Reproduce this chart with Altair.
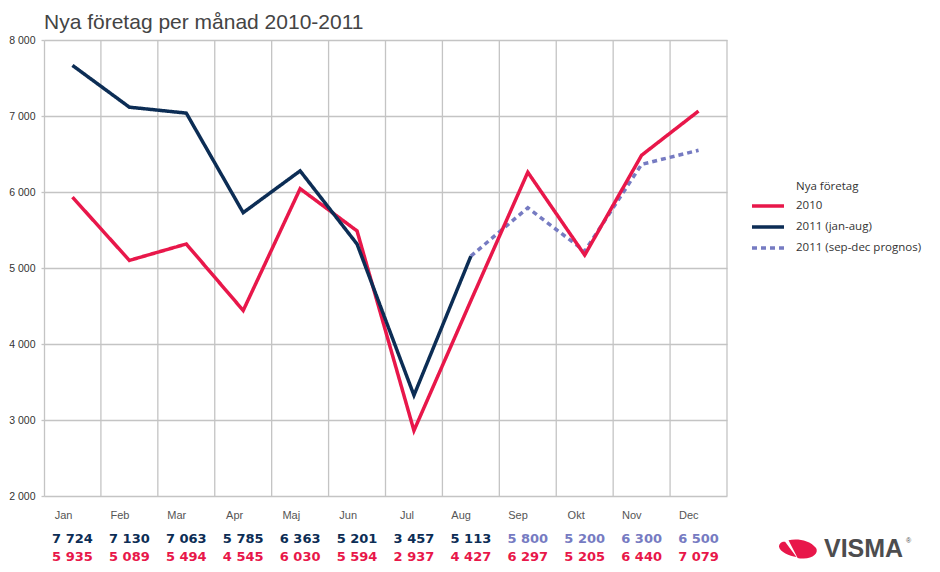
import altair as alt
import pandas as pd

# ---------------- data ----------------
months = ["Jan", "Feb", "Mar", "Apr", "Maj", "Jun", "Jul", "Aug", "Sep", "Okt", "Nov", "Dec"]
series_names = ["2010", "2011 (jan-aug)", "2011 (sep-dec prognos)"]

# plotted line values
line_2010 = [5932, 5100, 5316, 4441, 6043, 5488, 2861, 4570, 6260, 5170, 6484, 7065]
line_2011 = [7666, 7116, 7038, 5728, 6278, 5315, 3325, 5156]          # Jan..Aug
prognos_months = ["Aug", "Sep", "Okt", "Nov", "Dec"]
line_prognos = [5156, 5792, 5221, 6364, 6549]                          # Aug..Dec

# table values printed under the chart
table_2011 = [7724, 7130, 7063, 5785, 6363, 5201, 3457, 5113, 5800, 5200, 6300, 6500]
table_2010 = [5935, 5089, 5494, 4545, 6030, 5594, 2937, 4427, 6297, 5205, 6440, 7079]
n_actual_2011 = 8

y_ticks = [2000, 3000, 4000, 5000, 6000, 7000, 8000]

colors = ["#e8174a", "#0c2d55", "#767bc2"]
grid_color = "#c4c4c4"

# ---------------- tables ----------------
lines_df = pd.concat([
    pd.DataFrame({"month": months, "value": line_2010, "series": series_names[0]}),
    pd.DataFrame({"month": months[:len(line_2011)], "value": line_2011, "series": series_names[1]}),
    pd.DataFrame({"month": prognos_months, "value": line_prognos, "series": series_names[2]}),
], ignore_index=True)

def fmt(v):
    return f"{v:,}".replace(",", " ")

table_df = pd.concat([
    pd.DataFrame({"month": months, "label": [fmt(v) for v in table_2011], "row": "2011",
                  "kind": ["actual"] * n_actual_2011 + ["prognos"] * (12 - n_actual_2011)}),
    pd.DataFrame({"month": months, "label": [fmt(v) for v in table_2010], "row": "2010",
                  "kind": ["actual"] * 12}),
], ignore_index=True)

months_df = pd.DataFrame({"month": months})
one = pd.DataFrame({"k": [0]})

W, H = 683, 456

# ---------------- encodings ----------------
x_scale = alt.Scale(type="band", domain=months, paddingInner=0, paddingOuter=0)
x_enc = alt.X(
    "month:N", sort=months, scale=x_scale,
    axis=alt.Axis(title=None, grid=False, ticks=False, tickSize=0, domain=False, labelAngle=0,
                  labelFont="Liberation Sans", labelFontSize=11, labelColor="#555",
                  labelPadding=19),
)
y_enc = alt.Y(
    "value:Q",
    scale=alt.Scale(domain=[2000, 8000], nice=False, zero=False),
    axis=alt.Axis(title=None, values=y_ticks,
                  labelExpr="replace(format(datum.value, ','), ',', ' ')",
                  labelFont="Liberation Sans", labelFontSize=10.5, labelColor="#333",
                  labelPadding=6, tickSize=3, tickColor=grid_color, tickWidth=1.3,
                  gridColor=grid_color, gridWidth=1.3,
                  domainColor=grid_color, domainWidth=1.3),
)

legend = alt.Legend(
    title=None, orient="none", legendX=718, legendY=160,
    symbolType="M-4,0H4", symbolSize=64, symbolStrokeWidth=3.5,
    labelFont="Open Sans", labelFontSize=11.5, labelColor="#333",
    labelOffset=22, rowPadding=7,
)
color_enc = alt.Color("series:N", scale=alt.Scale(domain=series_names, range=colors),
                      legend=legend)
dash_enc = alt.StrokeDash("series:N",
                          scale=alt.Scale(domain=series_names, range=[[1, 0], [1, 0], [5, 4]]),
                          legend=legend)

# vertical grid lines at band edges
vgrid = alt.Chart(months_df).mark_rule(color=grid_color, strokeWidth=1.3).encode(
    x=alt.X("month:N", sort=months, bandPosition=1, scale=x_scale)
)

base = alt.Chart(lines_df)
def line_layer(name):
    return base.transform_filter(alt.datum.series == name).mark_line(
        strokeWidth=3.5, strokeJoin="miter").encode(
        x=x_enc, y=y_enc, color=color_enc, strokeDash=dash_enc)

l_prog = line_layer(series_names[2])
l_2010 = line_layer(series_names[0])
l_2011 = line_layer(series_names[1])

tbase = alt.Chart(table_df)
def text_layer(row, kind, color, ypix):
    return tbase.transform_filter(
        (alt.datum.row == row) & (alt.datum.kind == kind)
    ).mark_text(font="DejaVu Sans", fontWeight="bold", fontSize=13,
                align="center", baseline="middle", color=color).encode(
        x=alt.X("month:N", sort=months), y=alt.value(ypix), text="label:N")

t1 = text_layer("2011", "actual", colors[1], 499)
t2 = text_layer("2011", "prognos", colors[2], 499)
t3 = text_layer("2010", "actual", colors[0], 517)

legend_title = alt.Chart(one).mark_text(
    text="Nya företag", font="Open Sans", fontSize=11.5, color="#333",
    align="left", baseline="middle").encode(x=alt.value(752), y=alt.value(147))

# Visma logo
swoosh = ("M-1,-0.12 C-1,-0.3 -0.85,-0.42 -0.68,-0.38 L-0.08,0.42 "
          "C-0.45,0.38 -0.95,0.15 -1,-0.12 Z "
          "M-0.5,-0.46 C-0.1,-0.56 0.6,-0.5 0.95,-0.05 C1.1,0.2 0.8,0.5 0.3,0.5 "
          "C0.15,0.5 0.05,0.49 -0.02,0.47 Z")
logo_mark = alt.Chart(one).mark_point(
    shape=swoosh, size=1444, filled=True, color="#e8174a", opacity=1, strokeWidth=0
).encode(x=alt.value(754), y=alt.value(509))
logo_text = alt.Chart(one).mark_text(
    text="VISMA", font="Liberation Sans", fontWeight="bold", fontSize=25,
    color="#4d4d4f", align="left", baseline="alphabetic").encode(
    x=alt.value(780), y=alt.value(517))
logo_r = alt.Chart(one).mark_text(
    text="®", font="Liberation Sans", fontSize=7, color="#4d4d4f",
    align="left", baseline="middle").encode(x=alt.value(862), y=alt.value(501))

chart = alt.layer(
    vgrid, l_prog, l_2010, l_2011, t1, t2, t3, legend_title, logo_mark, logo_text, logo_r
).properties(
    width=W, height=H,
    autosize=alt.AutoSizeParams(type="none"),
    padding={"left": 36, "top": 32, "right": 205, "bottom": 68},
    title=alt.TitleParams(text="Nya företag per månad 2010-2011", anchor="start",
                          frame="group", font="Liberation Sans", fontSize=21,
                          fontWeight="normal", color="#444", offset=2),
).configure_view(stroke=None)

chart.save("out.html", embed_options={"renderer": "svg", "actions": False})
